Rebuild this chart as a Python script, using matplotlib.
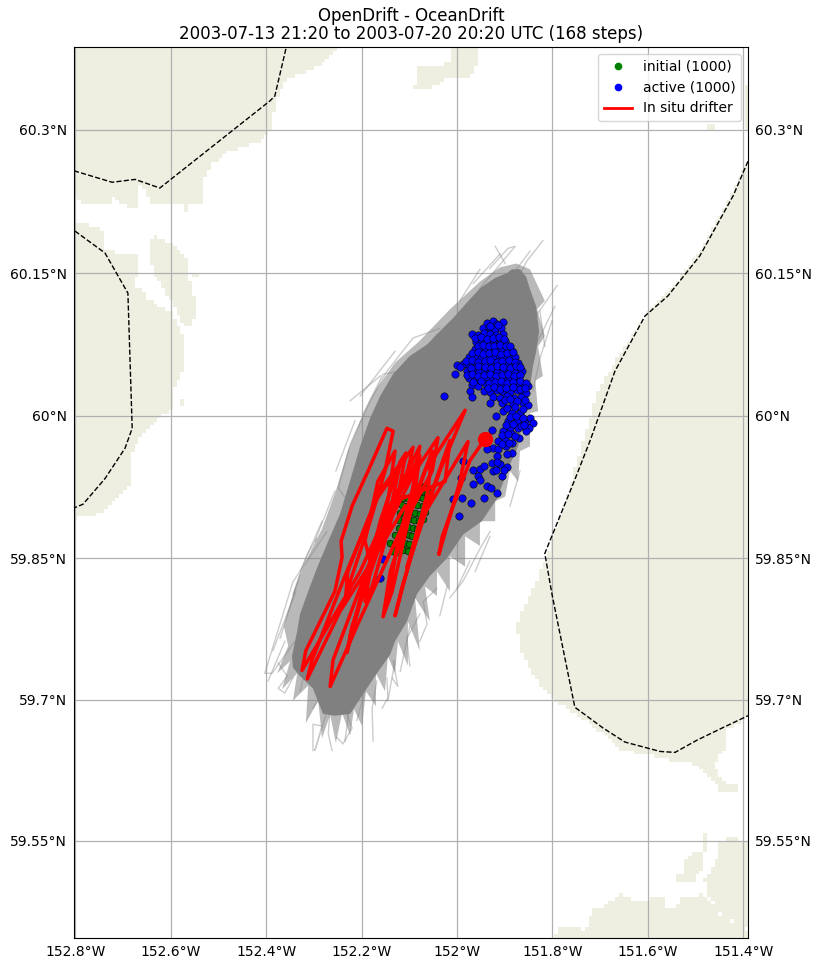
#! /usr/bin/env python
# -*- coding:utf-8 -*-
import numpy as np
import matplotlib
matplotlib.use('Agg')
import matplotlib.pyplot as plt
from matplotlib.colors import ListedColormap
from matplotlib.path import Path

title = 'OpenDrift - OceanDrift\n2003-07-13 21:20 to 2003-07-20 20:20 UTC (168 steps)'

lon_ticks = [-152.8, -152.6, -152.4, -152.2, -152.0, -151.8, -151.6, -151.4]
lon_labels = ['152.8°W', '152.6°W', '152.4°W', '152.2°W', '152°W', '151.8°W', '151.6°W', '151.4°W']
lat_ticks = [59.55, 59.7, 59.85, 60.0, 60.15, 60.3]
lat_labels = ['59.55°N', '59.7°N', '59.85°N', '60°N', '60.15°N', '60.3°N']

# land outlines, lon/lat
land_nw = [(-152.249, 60.39), (-152.266, 60.375), (-152.287, 60.366), (-152.323, 60.358), (-152.356, 60.354),
           (-152.382, 60.330), (-152.388, 60.299), (-152.407, 60.289), (-152.476, 60.278), (-152.512, 60.265),
           (-152.532, 60.244), (-152.528, 60.223), (-152.560, 60.221), (-152.560, 60.212), (-152.570, 60.212),
           (-152.574, 60.221), (-152.644, 60.223), (-152.650, 60.233), (-152.665, 60.244), (-152.665, 60.215),
           (-152.706, 60.223), (-152.727, 60.234), (-152.727, 60.221), (-152.790, 60.223), (-152.797, 60.228),
           (-152.81, 60.228), (-152.81, 60.39)]
land_top = [(-152.010, 60.39), (-152.015, 60.369), (-152.082, 60.364), (-152.090, 60.341), (-152.057, 60.341),
            (-152.021, 60.353), (-151.973, 60.353), (-151.958, 60.370), (-151.958, 60.39)]
land_west = [(-152.784, 60.202), (-152.759, 60.197), (-152.738, 60.194), (-152.738, 60.176), (-152.706, 60.171),
             (-152.671, 60.168), (-152.671, 60.149), (-152.679, 60.136), (-152.658, 60.131), (-152.650, 60.123),
             (-152.616, 60.113), (-152.597, 60.110), (-152.587, 60.096), (-152.570, 60.082), (-152.570, 60.050),
             (-152.595, 60.029), (-152.595, 60.008), (-152.623, 59.998), (-152.665, 59.977), (-152.681, 59.963),
             (-152.686, 59.928), (-152.721, 59.910), (-152.744, 59.897), (-152.790, 59.894), (-152.797, 59.889),
             (-152.81, 59.889), (-152.81, 60.202)]
land_island = [(-152.633, 60.189), (-152.648, 60.181), (-152.637, 60.152), (-152.616, 60.134), (-152.597, 60.118),
               (-152.587, 60.107), (-152.566, 60.093), (-152.553, 60.093), (-152.549, 60.121), (-152.564, 60.149),
               (-152.543, 60.144), (-152.543, 60.150), (-152.564, 60.152), (-152.564, 60.165), (-152.591, 60.178),
               (-152.608, 60.183), (-152.629, 60.186)]
land_speck = [(-152.583, 60.010), (-152.572, 60.010), (-152.572, 60.018), (-152.583, 60.018)]
land_east = [(-151.396, 60.262), (-151.438, 60.220), (-151.491, 60.173), (-151.558, 60.129), (-151.606, 60.105),
             (-151.648, 60.073), (-151.700, 60.031), (-151.717, 60.005), (-151.759, 59.933), (-151.816, 59.847),
             (-151.836, 59.822), (-151.864, 59.794), (-151.874, 59.780), (-151.868, 59.755), (-151.843, 59.727),
             (-151.805, 59.704), (-151.763, 59.688), (-151.721, 59.674), (-151.673, 59.656), (-151.652, 59.646),
             (-151.574, 59.639), (-151.539, 59.633), (-151.505, 59.632), (-151.476, 59.622), (-151.449, 59.604),
             (-151.411, 59.601), (-151.411, 59.607), (-151.442, 59.614), (-151.463, 59.632), (-151.438, 59.646),
             (-151.438, 59.667), (-151.39, 59.681), (-151.38, 59.681), (-151.38, 60.262)]
land_strip = [(-151.396, 60.346), (-151.38, 60.346), (-151.38, 60.299), (-151.396, 60.299)]
land_dot = [(-151.474, 60.299), (-151.457, 60.299), (-151.457, 60.305), (-151.474, 60.305)]
land_se = [(-151.801, 59.44), (-151.788, 59.456), (-151.748, 59.459), (-151.732, 59.451), (-151.717, 59.477),
           (-151.694, 59.480), (-151.658, 59.493), (-151.623, 59.486), (-151.595, 59.488), (-151.581, 59.493),
           (-151.560, 59.488), (-151.560, 59.477), (-151.539, 59.477), (-151.528, 59.491), (-151.497, 59.491),
           (-151.491, 59.496), (-151.476, 59.488), (-151.449, 59.472), (-151.428, 59.464), (-151.407, 59.461),
           (-151.39, 59.453), (-151.38, 59.44)]
land_se2 = [(-151.455, 59.547), (-151.423, 59.554), (-151.38, 59.547), (-151.38, 59.511), (-151.434, 59.511),
            (-151.434, 59.508), (-151.38, 59.508), (-151.38, 59.453), (-151.421, 59.464), (-151.449, 59.473),
            (-151.476, 59.494), (-151.480, 59.508), (-151.455, 59.529)]
land_se3 = [(-151.526, 59.529), (-151.507, 59.537), (-151.484, 59.537), (-151.480, 59.526), (-151.497, 59.513),
            (-151.497, 59.505), (-151.543, 59.505), (-151.543, 59.511), (-151.526, 59.515)]
land_se4 = [(-151.486, 59.537), (-151.476, 59.537), (-151.476, 59.558), (-151.486, 59.558)]
land_polys = [land_nw, land_top, land_west, land_island, land_speck, land_east, land_strip, land_dot,
              land_se, land_se2, land_se3, land_se4]

# dashed borders
border_nw_lon = [-152.803, -152.723, -152.675, -152.623, -152.392, -152.382, -152.356]
border_nw_lat = [60.257, 60.245, 60.248, 60.239, 60.330, 60.335, 60.39]
border_w_lon = [-152.801, -152.738, -152.690, -152.681, -152.696, -152.738, -152.784, -152.803]
border_w_lat = [60.194, 60.171, 60.129, 59.987, 59.966, 59.934, 59.907, 59.903]
border_e_lon = [-151.390, -151.421, -151.491, -151.558, -151.606, -151.669, -151.721, -151.753, -151.816,
                -151.801, -151.753, -151.694, -151.648, -151.574, -151.543, -151.497, -151.444, -151.39]
border_e_lat = [60.267, 60.231, 60.168, 60.126, 60.105, 60.047, 59.974, 59.933, 59.855,
                59.812, 59.692, 59.670, 59.655, 59.645, 59.644, 59.657, 59.670, 59.683]

# dense part of the 1000 trajectories
swarm_core = [(-151.895, 60.150), (-151.885, 60.154), (-151.868, 60.154), (-151.855, 60.146), (-151.847, 60.133),
              (-151.834, 60.115), (-151.828, 60.089), (-151.834, 60.068), (-151.841, 60.052), (-151.847, 60.031),
              (-151.853, 60.016), (-151.864, 59.989), (-151.872, 59.968), (-151.889, 59.949), (-151.916, 59.913),
              (-151.948, 59.889), (-151.987, 59.875), (-152.021, 59.850), (-152.057, 59.831), (-152.084, 59.812),
              (-152.105, 59.783), (-152.130, 59.762), (-152.140, 59.748), (-152.172, 59.725), (-152.197, 59.706),
              (-152.224, 59.685), (-152.256, 59.683), (-152.281, 59.685), (-152.296, 59.704), (-152.302, 59.712),
              (-152.329, 59.725), (-152.344, 59.734), (-152.346, 59.746), (-152.335, 59.773), (-152.329, 59.791),
              (-152.312, 59.815), (-152.294, 59.839), (-152.270, 59.868), (-152.245, 59.897), (-152.224, 59.932),
              (-152.203, 59.968), (-152.182, 59.998), (-152.161, 60.021), (-152.134, 60.044), (-152.099, 60.063),
              (-152.063, 60.075), (-152.036, 60.089), (-152.008, 60.103), (-151.983, 60.117), (-151.952, 60.134),
              (-151.920, 60.145)]
# ragged rim around it
swarm_fringe = [(-151.899, 59.915), (-151.920, 59.910), (-151.920, 59.889), (-151.952, 59.889), (-151.952, 59.863),
                (-151.983, 59.873), (-151.983, 59.841), (-152.015, 59.852), (-152.015, 59.815), (-152.042, 59.836),
                (-152.042, 59.810), (-152.067, 59.820), (-152.057, 59.783), (-152.088, 59.808), (-152.078, 59.752),
                (-152.103, 59.783), (-152.103, 59.736), (-152.124, 59.762), (-152.130, 59.728), (-152.145, 59.746),
                (-152.151, 59.709), (-152.170, 59.728), (-152.170, 59.693), (-152.191, 59.709), (-152.199, 59.672),
                (-152.216, 59.690), (-152.224, 59.662), (-152.241, 59.686), (-152.254, 59.654), (-152.266, 59.684),
                (-152.283, 59.659), (-152.291, 59.699), (-152.317, 59.675), (-152.312, 59.715), (-152.344, 59.699),
                (-152.335, 59.728), (-152.367, 59.711), (-152.350, 59.741), (-152.377, 59.728), (-152.354, 59.757),
                (-152.363, 59.778), (-152.342, 59.815), (-152.317, 59.847), (-152.283, 59.881), (-152.254, 59.921),
                (-152.229, 59.963), (-152.203, 59.995), (-152.172, 60.026), (-152.130, 60.056), (-152.078, 60.079),
                (-152.015, 60.112), (-151.952, 60.141), (-151.910, 60.156), (-151.876, 60.160), (-151.847, 60.154),
                (-151.816, 60.121), (-151.832, 60.112), (-151.816, 60.084), (-151.830, 60.073), (-151.820, 60.042),
                (-151.836, 60.037), (-151.830, 60.005), (-151.847, 60.003), (-151.847, 59.968), (-151.868, 59.963),
                (-151.872, 59.931), (-151.889, 59.942)]

# trajectories that stray outside the dense part
stray_tracks = [
    [(-151.952, 60.134), (-151.878, 60.178), (-151.893, 60.176), (-151.931, 60.155)],
    [(-151.820, 60.184), (-151.853, 60.163), (-151.868, 60.149)],
    [(-151.790, 60.137), (-151.832, 60.107), (-151.841, 60.089)],
    [(-152.036, 60.092), (-152.092, 60.082), (-152.147, 60.047), (-152.182, 60.016), (-152.224, 59.970),
     (-152.249, 59.924), (-152.218, 59.903)],
    [(-152.042, 60.086), (-152.063, 60.071), (-152.119, 60.047), (-152.155, 60.044), (-152.197, 60.002)],
    [(-152.061, 60.068), (-152.099, 60.055), (-152.134, 60.037)],
    [(-151.801, 60.100), (-151.826, 60.061), (-151.841, 60.026)],
    [(-151.847, 60.173), (-151.883, 60.149)],
    [(-151.910, 60.170), (-151.966, 60.139)],
    [(-152.273, 59.878), (-152.344, 59.825), (-152.403, 59.728), (-152.388, 59.728), (-152.340, 59.762)],
    [(-152.375, 59.739), (-152.356, 59.725), (-152.375, 59.712), (-152.361, 59.707), (-152.344, 59.723)],
    [(-152.302, 59.646), (-152.302, 59.674), (-152.283, 59.672), (-152.298, 59.646), (-152.266, 59.699)],
    [(-152.262, 59.646), (-152.270, 59.664), (-152.266, 59.691)],
    [(-152.252, 59.660), (-152.239, 59.653), (-152.220, 59.670), (-152.231, 59.685)],
    [(-152.176, 59.656), (-152.178, 59.691), (-152.168, 59.720)],
    [(-152.157, 59.691), (-152.145, 59.702), (-152.147, 59.723)],
    [(-152.136, 59.723), (-152.124, 59.714), (-152.134, 59.741)],
    [(-152.099, 59.736), (-152.105, 59.765), (-152.078, 59.791)],
    [(-152.078, 59.762), (-152.063, 59.780), (-152.071, 59.804), (-152.042, 59.818)],
    [(-152.015, 59.808), (-151.987, 59.826), (-151.952, 59.860), (-151.931, 59.878)],
    [(-152.000, 59.818), (-151.973, 59.847)],
    [(-152.302, 59.691), (-152.283, 59.706), (-152.294, 59.723)],
    [(-152.344, 59.812), (-152.314, 59.854), (-152.294, 59.871)],
    [(-152.371, 59.765), (-152.329, 59.833)],
    [(-152.329, 59.709), (-152.308, 59.752)],
    [(-152.396, 59.720), (-152.361, 59.762)],
    [(-152.235, 59.656), (-152.224, 59.699)],
    [(-152.210, 59.678), (-152.193, 59.709)],
    [(-152.145, 59.699), (-152.130, 59.741)],
    [(-152.119, 59.730), (-152.099, 59.778)],
    [(-152.036, 59.789), (-152.021, 59.820)],
    [(-151.962, 59.836), (-151.931, 59.873)],
    [(-151.889, 59.905), (-151.868, 59.942)],
    [(-151.816, 60.073), (-151.826, 60.110)],
    [(-151.795, 60.115), (-151.836, 60.073)],
    [(-152.203, 60.021), (-152.130, 60.068)],
    [(-152.254, 59.942), (-152.214, 59.995)],
    [(-152.224, 60.016), (-152.161, 60.042)],
    [(-152.298, 59.868), (-152.256, 59.921)],
    [(-152.329, 59.836), (-152.283, 59.889)],
    [(-152.386, 59.752), (-152.338, 59.815)],
    [(-151.994, 60.121), (-151.952, 60.154)],
    [(-151.920, 60.178), (-151.899, 60.160)],
]

# seed positions (green)
initial_lon = [-152.078, -152.068, -152.060,
               -152.090, -152.080, -152.070, -152.062,
               -152.113, -152.103, -152.092, -152.082, -152.072, -152.063,
               -152.115, -152.104, -152.093, -152.083, -152.072, -152.062,
               -152.120, -152.110, -152.099, -152.088, -152.078, -152.068,
               -152.122, -152.112, -152.101, -152.090, -152.080, -152.072,
               -152.122, -152.112, -152.102, -152.092, -152.083,
               -152.130, -152.120, -152.110, -152.100, -152.095,
               -152.140, -152.130, -152.120, -152.110, -152.100,
               -152.135, -152.124, -152.114, -152.103]
initial_lat = [59.925, 59.926, 59.923,
               59.921, 59.920, 59.921, 59.919,
               59.914, 59.913, 59.914, 59.915, 59.913, 59.914,
               59.906, 59.905, 59.907, 59.906, 59.905, 59.907,
               59.898, 59.897, 59.899, 59.898, 59.897, 59.899,
               59.890, 59.889, 59.891, 59.890, 59.889, 59.891,
               59.882, 59.881, 59.883, 59.882, 59.881,
               59.874, 59.873, 59.875, 59.874, 59.873,
               59.866, 59.865, 59.867, 59.866, 59.865,
               59.858, 59.857, 59.859, 59.858]

# final positions (blue)
active_lon = [-151.937, -151.925, -151.916, -151.904,
              -151.945, -151.932, -151.920, -151.908,
              -151.969, -151.956, -151.944, -151.931, -151.919, -151.904,
              -151.960, -151.948, -151.936, -151.922, -151.912, -151.899,
              -151.962, -151.951, -151.940, -151.928, -151.917, -151.905, -151.893, -151.884,
              -151.974, -151.963, -151.950, -151.938, -151.925, -151.913, -151.902, -151.889, -151.878,
              -151.988, -151.975, -151.960, -151.948, -151.936, -151.922, -151.910, -151.898, -151.885, -151.872,
              -152.000, -151.980, -151.968, -151.954, -151.941, -151.930, -151.916, -151.904, -151.892, -151.878, -151.864,
              -151.975, -151.962, -151.950, -151.938, -151.925, -151.912, -151.900, -151.888, -151.874,
              -151.969, -151.955, -151.940, -151.928, -151.915, -151.902, -151.889, -151.876, -151.860, -151.852,
              -151.943, -151.930, -151.917, -151.905, -151.890, -151.875, -151.862, -151.855,
              -151.925, -151.910, -151.895, -151.880, -151.865,
              -152.027, -151.973, -151.969, -152.004, -151.987, -151.992, -151.966, -151.952, -151.956, -151.952,
              -151.966, -151.937, -151.929, -151.916, -151.943, -151.971, -151.990, -152.008, -151.996, -152.155, -152.161,
              -151.906, -151.925, -151.927, -151.910, -151.895, -151.901, -151.918, -151.943, -151.918, -151.927,
              -151.931, -151.906, -151.883, -151.862, -151.851, -151.904, -151.885, -151.868, -151.874, -151.893,
              -151.847, -151.857, -151.841, -151.849, -151.855, -151.872, -151.889, -151.904, -151.885, -151.870,
              -151.899, -151.885, -151.914, -151.897, -151.925, -151.937, -151.914, -151.885, -151.895, -151.916, -151.916,
              -151.930, -151.914,
              -151.962, -151.950, -151.938, -151.925, -151.913, -151.901,
              -151.955, -151.945, -151.934, -151.923, -151.910, -151.898, -151.888,
              -151.968, -151.957, -151.945, -151.932, -151.920, -151.908, -151.896, -151.883,
              -151.982, -151.969, -151.955, -151.942, -151.930, -151.917, -151.905, -151.892, -151.878,
              -151.994, -151.970, -151.955, -151.942, -151.928, -151.916, -151.903, -151.890, -151.876, -151.868,
              -151.980, -151.968, -151.956, -151.944, -151.931, -151.918, -151.906, -151.894, -151.881, -151.868,
              -151.966, -151.950, -151.934, -151.921, -151.908, -151.895, -151.882, -151.868, -151.856,
              -151.935, -151.922, -151.910, -151.897, -151.882, -151.869, -151.858,
              -151.900, -151.888, -151.874, -151.858,
              -151.895, -151.878, -151.862,
              -151.890, -151.876, -151.862,
              -151.898, -151.882, -151.866, -151.860,
              -151.905, -151.893, -151.878,
              -151.905, -151.892]
active_lat = [60.098, 60.100, 60.097, 60.099,
              60.092, 60.093, 60.091, 60.092,
              60.086, 60.085, 60.087, 60.086, 60.085, 60.086,
              60.078, 60.079, 60.077, 60.078, 60.076, 60.079,
              60.070, 60.071, 60.069, 60.070, 60.072, 60.069, 60.071, 60.068,
              60.062, 60.063, 60.061, 60.063, 60.062, 60.064, 60.061, 60.063, 60.062,
              60.055, 60.054, 60.056, 60.054, 60.055, 60.056, 60.053, 60.055, 60.054, 60.056,
              60.054, 60.047, 60.048, 60.046, 60.047, 60.048, 60.046, 60.047, 60.048, 60.046, 60.047,
              60.040, 60.039, 60.041, 60.040, 60.039, 60.041, 60.040, 60.039, 60.041,
              60.033, 60.032, 60.034, 60.033, 60.032, 60.034, 60.033, 60.032, 60.034, 60.031,
              60.026, 60.025, 60.027, 60.026, 60.025, 60.027, 60.026, 60.024,
              60.020, 60.019, 60.021, 60.019, 60.020,
              60.021, 60.026, 60.020, 60.044, 59.953, 59.935, 59.943, 59.944, 59.937, 59.932,
              59.928, 59.926, 59.924, 59.919, 59.913, 59.908, 59.913, 59.912, 59.895, 59.849, 59.829,
              59.937, 59.942, 59.950, 59.949, 59.946, 59.943, 59.943, 59.947, 60.000, 59.985,
              60.014, 60.014, 60.013, 60.014, 60.011, 60.005, 60.003, 60.003, 59.995, 59.995,
              59.998, 59.993, 59.993, 59.987, 59.984, 59.987, 59.987, 59.984, 59.981, 59.977,
              59.976, 59.972, 59.974, 59.968, 59.966, 59.965, 59.965, 59.961, 59.960, 59.958, 59.952,
              60.095, 60.096,
              60.082, 60.083, 60.081, 60.082, 60.083, 60.081,
              60.074, 60.075, 60.073, 60.074, 60.075, 60.073, 60.074,
              60.066, 60.067, 60.065, 60.066, 60.067, 60.065, 60.066, 60.067,
              60.058, 60.059, 60.057, 60.058, 60.059, 60.057, 60.058, 60.059, 60.057,
              60.051, 60.050, 60.052, 60.051, 60.050, 60.052, 60.051, 60.050, 60.052, 60.051,
              60.043, 60.044, 60.042, 60.043, 60.044, 60.042, 60.043, 60.044, 60.042, 60.043,
              60.036, 60.037, 60.035, 60.036, 60.037, 60.035, 60.036, 60.037, 60.035,
              60.029, 60.030, 60.028, 60.029, 60.030, 60.028, 60.029,
              60.017, 60.018, 60.016, 60.017,
              60.008, 60.009, 60.007,
              59.999, 60.000, 59.998,
              59.990, 59.991, 59.989, 59.990,
              59.980, 59.981, 59.979,
              59.970, 59.971]

# in situ drifter
drifter_lon = [-152.109, -152.178, -152.245, -152.314, -152.304, -152.235, -152.161, -152.119, -152.136, -152.203,
               -152.325, -152.317, -152.256, -152.241, -152.243, -152.220, -152.182, -152.147, -152.134, -152.151,
               -152.182, -152.233, -152.229, -152.172, -152.092, -152.109, -152.172, -152.231, -152.220, -152.151,
               -152.088, -152.040, -152.052, -152.119, -152.208, -152.266, -152.260, -152.182,
               -152.193, -152.166, -152.130, -152.145, -152.199, -152.224, -152.208, -152.161, -152.119, -152.107,
               -152.124, -152.178, -152.193, -152.178, -152.130, -152.078, -152.094, -152.124, -152.145, -152.136,
               -152.099, -152.052, -152.061, -152.094, -152.130, -152.115, -152.067, -152.015, -152.025,
               -152.130, -152.078,
               -152.088, -152.136, -152.155, -152.140, -152.067, -151.983, -152.036, -152.105, -152.078, -151.977,
               -151.994, -152.038, -152.031, -151.973, -151.941]
drifter_lat = [59.905, 59.847, 59.794, 59.722, 59.742, 59.831, 59.921, 59.950, 59.910, 59.836,
               59.731, 59.752, 59.815, 59.851, 59.868, 59.905, 59.947, 59.987, 59.984, 59.942,
               59.889, 59.812, 59.836, 59.910, 59.967, 59.931, 59.863, 59.750, 59.778, 59.879,
               59.942, 59.977, 59.942, 59.879, 59.780, 59.714, 59.742, 59.847,
               59.868, 59.931, 59.963, 59.910, 59.815, 59.767, 59.794, 59.889, 59.952, 59.961,
               59.915, 59.820, 59.804, 59.847, 59.915, 59.968, 59.921, 59.868, 59.804, 59.841,
               59.900, 59.963, 59.921, 59.857, 59.789, 59.820, 59.900, 59.974, 59.931,
               59.910, 59.958,
               59.921, 59.815, 59.788, 59.836, 59.942, 60.006, 59.942, 59.840, 59.889, 59.973,
               59.931, 59.854, 59.873, 59.953, 59.976]


def merc(lat):
    return np.log(np.tan(np.pi / 4 + np.radians(lat) / 2))


def inv_merc(y):
    return np.degrees(2 * np.arctan(np.exp(y)) - np.pi / 2)


def land_mask(lon_e, lat_e):
    # stepped land raster like the coastline in the original
    lon_c = 0.5 * (lon_e[:-1] + lon_e[1:])
    lat_c = 0.5 * (lat_e[:-1] + lat_e[1:])
    xx, yy = np.meshgrid(lon_c, lat_c)
    pts = np.column_stack([xx.ravel(), yy.ravel()])
    mask = np.zeros(len(pts), bool)
    for poly in land_polys:
        mask |= Path(poly).contains_points(pts)
    return np.ma.masked_where(~mask.reshape(xx.shape), np.ones(xx.shape))


fig = plt.figure(figsize=(8.22, 9.69), dpi=100)
ax = fig.add_axes([74 / 822, 1 - 938 / 969, 674 / 822, 891 / 969])
ax.set_yscale('function', functions=(merc, inv_merc))

lon_edges = np.arange(-152.82, -151.37, 0.008)
lat_edges = np.arange(59.43, 60.40, 0.004)
ax.pcolormesh(lon_edges, lat_edges, land_mask(lon_edges, lat_edges),
              cmap=ListedColormap(['#eeeee1']), zorder=1, linewidth=0)

ax.grid(True, color='#b0b0b0', lw=0.9, zorder=1.5)

ax.plot(border_nw_lon, border_nw_lat, 'k--', lw=1, zorder=2)
ax.plot(border_w_lon, border_w_lat, 'k--', lw=1, zorder=2)
ax.plot(border_e_lon, border_e_lat, 'k--', lw=1, zorder=2)

ax.fill(*zip(*swarm_fringe), color='gray', alpha=0.55, lw=0, zorder=3)
for track in stray_tracks:
    ax.plot(*zip(*track), color='gray', lw=1, alpha=0.4, zorder=3)
ax.fill(*zip(*swarm_core), color='gray', lw=0, zorder=4)

ax.scatter(initial_lon, initial_lat, s=24, c='green', edgecolors='black', linewidths=0.4, zorder=5)
ax.scatter(active_lon, active_lat, s=28, c='blue', edgecolors='black', linewidths=0.4, zorder=10)
ax.plot(drifter_lon, drifter_lat, color='red', lw=2.5, zorder=12)
ax.plot(drifter_lon[-1], drifter_lat[-1], 'o', color='red', ms=10, zorder=13)

ax.plot([], [], 'o', color='green', ms=4.5, label='initial (1000)')
ax.plot([], [], 'o', color='blue', ms=4.5, label='active (1000)')
ax.plot([], [], color='red', lw=2, label='In situ drifter')
ax.legend(loc='upper right')

ax.set_xlim(-152.803, -151.39)
ax.set_ylim(59.446, 60.386)
ax.set_xticks(lon_ticks)
ax.set_xticklabels(lon_labels)
ax.set_yticks(lat_ticks)
ax.set_yticklabels(lat_labels)
ax.minorticks_off()
ax.tick_params(length=0, labelleft=True, labelright=True, pad=5)
ax.set_title(title, fontsize=12, pad=6, linespacing=0.95)

fig.savefig('out.png', dpi=100)
